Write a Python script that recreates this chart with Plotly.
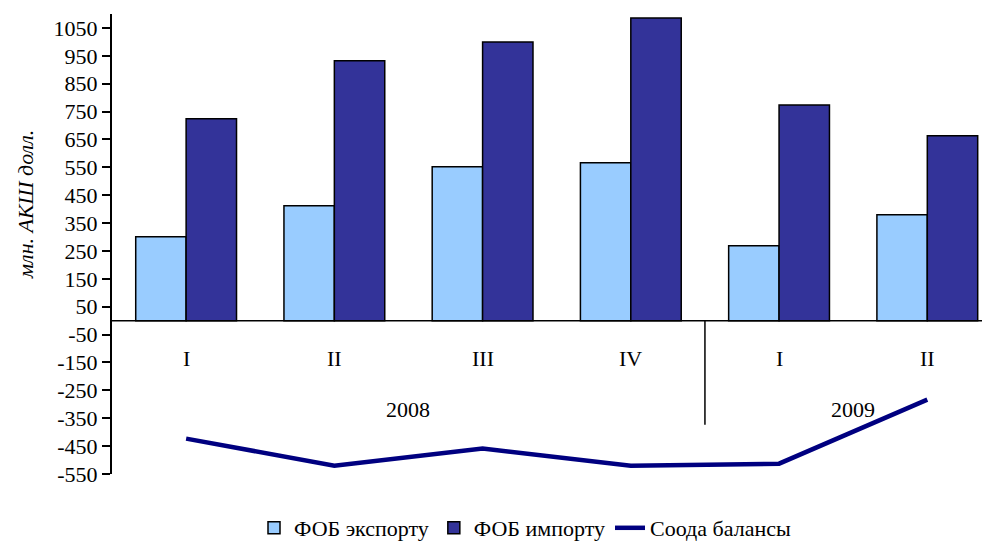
import plotly.graph_objects as go

quarters = ["I", "II", "III", "IV", "I", "II"]
years = ["2008", "2009"]
year_spans = [(0, 3), (4, 5)]
exports = [301, 412, 552, 566, 269, 380]
imports = [724, 932, 1000, 1086, 774, 663]
balance = [-423, -520, -459, -520, -513, -283]
y_ticks = [1050, 950, 850, 750, 650, 550, 450, 350, 250, 150, 50,
           -50, -150, -250, -350, -450, -550]
y_tick_labels = ["1050", "950", "850", "750", "650", "550", "450", "350", "250", "150", "50",
                 "-50", "-150", "-250", "-350", "-450", "-550"]

x = list(range(len(quarters)))
FONT = "Liberation Serif, Times New Roman, serif"
FS = 22

fig = go.Figure()
fig.add_trace(go.Bar(x=x, y=exports, name="ФОБ экспорту",
                     marker=dict(color="#99CCFF", line=dict(color="black", width=1.5))))
fig.add_trace(go.Bar(x=x, y=imports, name="ФОБ импорту",
                     marker=dict(color="#333399", line=dict(color="black", width=1.5))))
fig.add_trace(go.Scatter(x=x, y=balance, name="Соода балансы", mode="lines",
                         line=dict(color="#000080", width=4.5)))

# zero line
fig.add_shape(type="line", xref="paper", yref="y", x0=0, x1=1, y0=0, y1=0,
              line=dict(color="black", width=1.5), layer="above")
# separator between years
fig.add_shape(type="line", xref="x", yref="y", x0=3.5, x1=3.5, y0=0, y1=-373,
              line=dict(color="black", width=1.5))

for i, q in enumerate(quarters):
    fig.add_annotation(x=i, y=-136, xref="x", yref="y", text=q, showarrow=False,
                       font=dict(family=FONT, size=FS, color="black"))
for yr, (a, b) in zip(years, year_spans):
    fig.add_annotation(x=(a + b) / 2, y=-318, xref="x", yref="y", text=yr, showarrow=False,
                       font=dict(family=FONT, size=FS, color="black"))

fig.add_annotation(xref="paper", yref="paper", x=(25 - 112) / 878, y=(474 - 205) / 460,
                   xanchor="center", yanchor="middle", text="<i>млн. АКШ долл.</i>",
                   showarrow=False, textangle=-90,
                   font=dict(family=FONT, size=FS, color="black"))

# page body has an 8px margin: compensate so the plot lands where the reference has it
fig.update_layout(
    width=982, height=533,
    margin=dict(l=104, r=0, t=6, b=67, autoexpand=False),
    plot_bgcolor="white", paper_bgcolor="white",
    barmode="group", bargap=0.32, bargroupgap=0,
    font=dict(family=FONT, size=FS, color="black"),
    showlegend=True,
    legend=dict(orientation="h", x=(525 - 112) / 878, xanchor="center",
                y=-(528 - 474) / 460, yanchor="middle",
                font=dict(family=FONT, size=FS), traceorder="normal",
                bgcolor="rgba(0,0,0,0)"),
)
fig.update_xaxes(range=[-0.5, 5.423], showticklabels=False, ticks="",
                 showgrid=False, zeroline=False, showline=False, automargin=False)
fig.update_yaxes(range=[-550, 1100], tickmode="array", tickvals=y_ticks, ticktext=y_tick_labels,
                 ticks="outside", ticklen=8,
                 tickwidth=1.5, tickcolor="black", showline=True, linecolor="black",
                 linewidth=2, showgrid=False, zeroline=False, automargin=False,
                 tickfont=dict(family=FONT, size=FS, color="black"))

fig.write_html("out.html")
